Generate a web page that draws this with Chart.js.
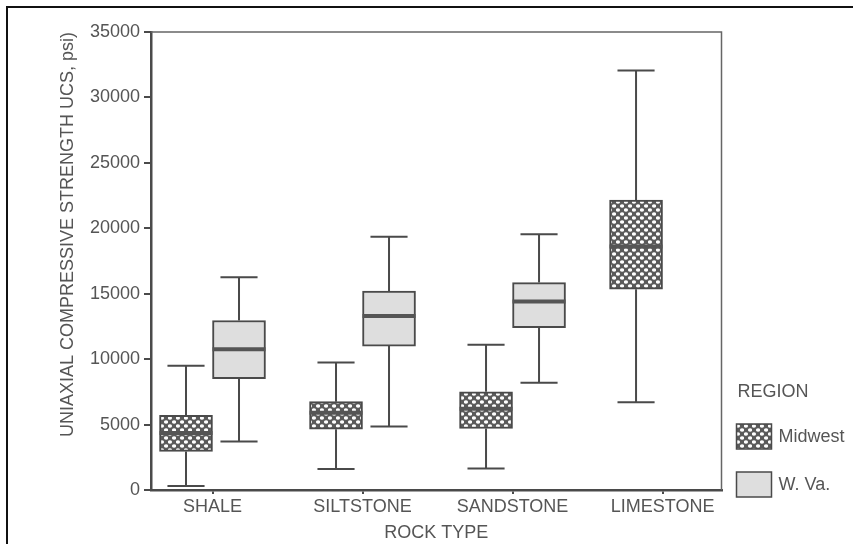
<!DOCTYPE html>
<html>
<head>
<meta charset="utf-8">
<script src="https://cdn.jsdelivr.net/npm/chart.js@4.4.1/dist/chart.umd.min.js"></script>
<style>
  html,body{margin:0;padding:0;background:#fff;}
  #wrap{width:853px;height:544px;position:relative;}
</style>
</head>
<body>
<div id="wrap"><canvas id="chart" width="853" height="544"></canvas></div>
<script>
const ROCK_TYPES = ["SHALE", "SILTSTONE", "SANDSTONE", "LIMESTONE"];
const REGIONS = ["Midwest", "W. Va."];
const LEGEND_TITLE = "REGION";
const X_TITLE = "ROCK TYPE";
const Y_TITLE = "UNIAXIAL COMPRESSIVE STRENGTH UCS, psi)";
const Y_TICKS = [0, 5000, 10000, 15000, 20000, 25000, 30000, 35000];

// box plot stats, psi
const MIDWEST_MIN = [300, 1600, 1650, 6700];
const MIDWEST_Q1  = [2950, 4650, 4700, 15350];
const MIDWEST_MED = [4350, 5900, 6200, 18600];
const MIDWEST_Q3  = [5700, 6750, 7500, 22150];
const MIDWEST_MAX = [9500, 9750, 11100, 32050];

const WVA_MIN = [3700, 4850, 8200, null];
const WVA_Q1  = [8500, 11000, 12400, null];
const WVA_MED = [10750, 13300, 14400, null];
const WVA_Q3  = [12950, 15200, 15850, null];
const WVA_MAX = [16250, 19350, 19550, null];

const INK = "#4a4a4a";
const TEXT = "#555";
const FONT = {family: '"Liberation Sans", Arial, sans-serif', size: 18};

const canvas = document.getElementById("chart");
const ctx = canvas.getContext("2d");

// cross-hatch fill for Midwest
function hatch(){
  const p = document.createElement("canvas");
  p.width = 8; p.height = 8;
  const c = p.getContext("2d");
  c.fillStyle = "#5a5a5a";
  c.fillRect(0,0,8,8);
  c.fillStyle = "#fff";
  [[2,2],[6,6]].forEach(([x,y])=>{
    c.beginPath(); c.ellipse(x,y,2.1,1.8,0,0,Math.PI*2); c.fill();
  });
  return ctx.createPattern(p, "repeat");
}
const HATCH = hatch();
const WVA_FILL = "#dedede";

function boxData(q1, q3){
  return ROCK_TYPES.map((_,i)=> ({x:i, y: q1[i]==null ? null : [q1[i], q3[i]]}));
}

// whiskers + medians
const boxPlugin = {
  id: "boxes",
  afterDatasetsDraw(chart){
    const c = chart.ctx, y = chart.scales.y;
    chart.data.datasets.forEach((ds, di)=>{
      const meta = chart.getDatasetMeta(di);
      meta.data.forEach((bar, i)=>{
        if(ds.stats.med[i]==null) return;
        const w = bar.width, cx = bar.x;
        const top = y.getPixelForValue(ds.stats.q3[i]);
        const bot = y.getPixelForValue(ds.stats.q1[i]);
        const hi = y.getPixelForValue(ds.stats.max[i]);
        const lo = y.getPixelForValue(ds.stats.min[i]);
        const md = y.getPixelForValue(ds.stats.med[i]);
        c.save();
        c.strokeStyle = INK;
        c.lineWidth = 2;
        c.beginPath();
        c.moveTo(cx, top); c.lineTo(cx, hi);
        c.moveTo(cx - w*0.35, hi); c.lineTo(cx + w*0.35, hi);
        c.moveTo(cx, bot); c.lineTo(cx, lo);
        c.moveTo(cx - w*0.35, lo); c.lineTo(cx + w*0.35, lo);
        c.stroke();
        c.lineWidth = 4;
        c.strokeStyle = "#555";
        c.beginPath();
        c.moveTo(bar.x - w/2, md); c.lineTo(bar.x + w/2, md);
        c.stroke();
        c.restore();
      });
    });
  }
};

// plot frame, outer border and legend
const framePlugin = {
  id: "frame",
  beforeDatasetsDraw(chart){
    const {ctx: c, chartArea: a} = chart;
    c.save();
    c.strokeStyle = "#666";
    c.lineWidth = 1.5;
    c.beginPath();
    c.moveTo(a.left, a.top); c.lineTo(a.right, a.top); c.lineTo(a.right, a.bottom);
    c.stroke();
    c.restore();
  },
  afterDraw(chart){
    const {ctx: c, chartArea: a} = chart;
    c.save();
    c.strokeStyle = "#111";
    c.lineWidth = 2;
    c.beginPath();
    c.moveTo(7, chart.height); c.lineTo(7, 7); c.lineTo(chart.width, 7);
    c.stroke();

    const x0 = a.right + 15;
    c.font = FONT.size + "px " + FONT.family;
    c.fillStyle = TEXT;
    c.textBaseline = "middle";
    c.fillText(LEGEND_TITLE, x0 + 1, a.bottom - 98);
    chart.data.datasets.forEach((ds, i)=>{
      const by = a.bottom - 66 + i*48;
      c.fillStyle = ds.backgroundColor;
      c.fillRect(x0, by, 35, 25);
      c.strokeStyle = INK;
      c.lineWidth = 1.5;
      c.strokeRect(x0, by, 35, 25);
      c.fillStyle = TEXT;
      c.fillText(ds.label, x0 + 42, by + 13);
    });
    c.restore();
  }
};

new Chart(canvas, {
  type: "bar",
  data: {
    datasets: [
      {
        label: REGIONS[0],
        data: boxData(MIDWEST_Q1, MIDWEST_Q3),
        stats: {min: MIDWEST_MIN, q1: MIDWEST_Q1, med: MIDWEST_MED, q3: MIDWEST_Q3, max: MIDWEST_MAX},
        backgroundColor: HATCH,
        borderColor: INK,
        borderWidth: 2,
        borderSkipped: false
      },
      {
        label: REGIONS[1],
        data: boxData(WVA_Q1, WVA_Q3),
        stats: {min: WVA_MIN, q1: WVA_Q1, med: WVA_MED, q3: WVA_Q3, max: WVA_MAX},
        backgroundColor: WVA_FILL,
        borderColor: INK,
        borderWidth: 2,
        borderSkipped: false
      }
    ]
  },
  options: {
    responsive: false,
    animation: false,
    barThickness: 53,
    layout: {padding: {top: 32, right: 131.5, bottom: 0, left: 0}},
    plugins: {legend: {display: false}, tooltip: {enabled: false}},
    scales: {
      x: {
        type: "linear",
        offset: false,
        min: -0.41,
        max: 3.393,
        afterBuildTicks: s => { s.ticks = ROCK_TYPES.map((_,i)=>({value:i})); },
        afterFit: s => { s.height = 54; },
        ticks: {
          callback: v => ROCK_TYPES[v],
          color: TEXT, font: FONT, padding: 2, maxRotation: 0, autoSkip: false
        },
        grid: {display: true, offset: false, drawOnChartArea: false, tickLength: 4, color: INK, lineWidth: 2},
        border: {display: true, color: INK, width: 2.5},
        title: {display: true, text: X_TITLE, color: TEXT, font: FONT, padding: {top: 0, bottom: 0}}
      },
      y: {
        min: 0,
        max: 35000,
        afterBuildTicks: s => { s.ticks = Y_TICKS.map(v=>({value:v})); },
        afterFit: s => { s.width = 151; },
        ticks: {callback: v => String(v), color: TEXT, font: FONT, padding: 4},
        grid: {display: true, drawOnChartArea: false, tickLength: 7, color: INK, lineWidth: 2},
        border: {display: true, color: INK, width: 2.5},
        title: {display: true, text: Y_TITLE, color: TEXT, font: FONT, align: "end", padding: {top: 57, bottom: 0}}
      }
    }
  },
  plugins: [boxPlugin, framePlugin]
});
</script>
</body>
</html>
